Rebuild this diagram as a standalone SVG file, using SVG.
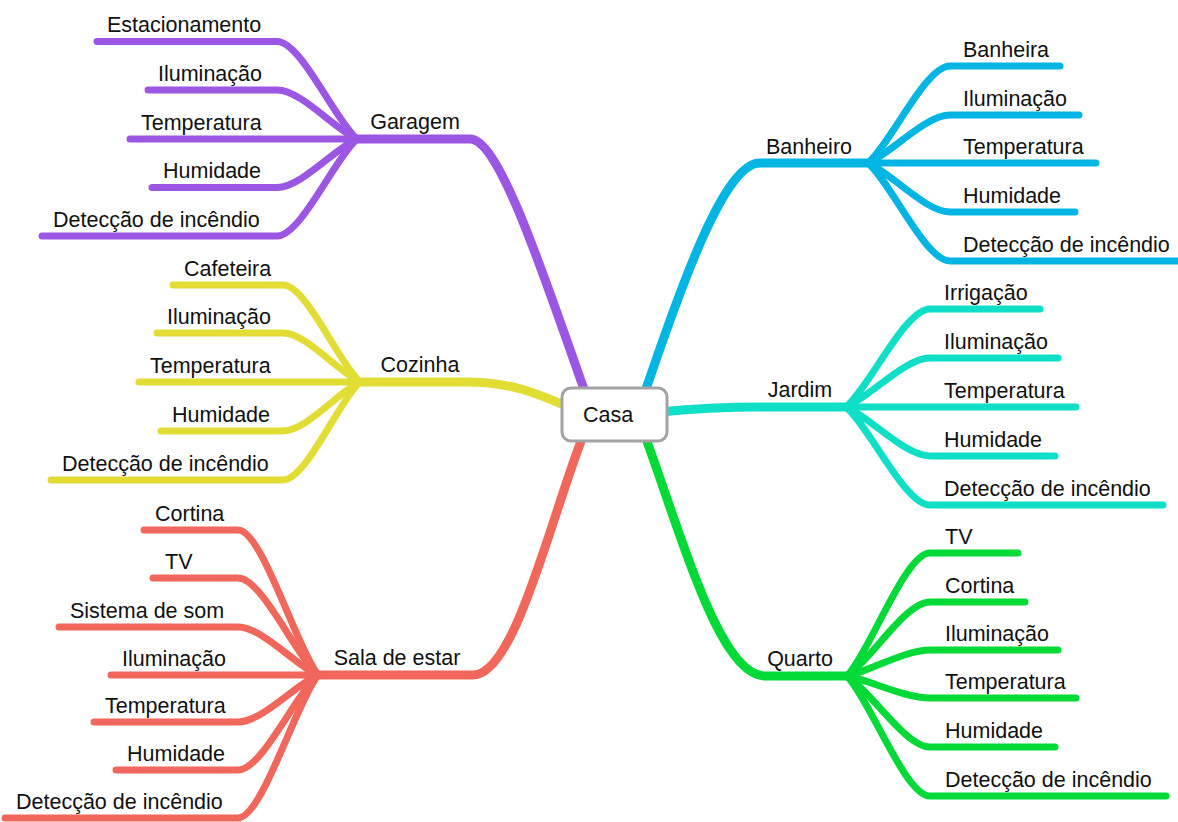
<svg xmlns="http://www.w3.org/2000/svg" width="1178" height="822" viewBox="0 0 1178 822">
  <style>
    .t { font-family: "Liberation Sans", Arial, Helvetica, sans-serif; font-size: 21.5px; fill: #111; }
    .c { text-anchor: middle; }
    path { fill: none; stroke-linecap: round; stroke-linejoin: round; }
    .main { stroke-width: 9; }
    .leaf { stroke-width: 7; }
    .purple { stroke: #9B56E3; }
    .yellow { stroke: #E1DD35; }
    .red { stroke: #F1675B; }
    .cyan { stroke: #03B5E3; }
    .teal { stroke: #0FDFC6; }
    .green { stroke: #04DA37; }
  </style>

  <rect width="1178" height="822" fill="#ffffff"/>

  <!-- connectors: branch trunks and leaf underlines -->
  <g id="connectors">
    <!-- Garagem -->
    <path class="main purple" d="M585,392 C545,280 500,139 470,139 H357"/>
    <path class="leaf purple" d="M357,139 C334.6,119.5 301,41.5 277,41.5 H97"/>
    <path class="leaf purple" d="M357,139 C334.6,129.2 301,90 277,90 H148"/>
    <path class="leaf purple" d="M357,139 H130"/>
    <path class="leaf purple" d="M357,139 C334.6,148.7 301,187.5 277,187.5 H152"/>
    <path class="leaf purple" d="M357,139 C334.6,158.4 301,236 277,236 H42"/>

    <!-- Cozinha -->
    <path class="main yellow" d="M575,410 C535,392 510,382 465,382 H360"/>
    <path class="leaf yellow" d="M360,382 C338.4,362.6 306.1,285 283,285 H173"/>
    <path class="leaf yellow" d="M360,382 C338.4,372.2 306.1,333 283,333 H157"/>
    <path class="leaf yellow" d="M360,382 H139"/>
    <path class="leaf yellow" d="M360,382 C338.4,391.8 306.1,431 283,431 H161"/>
    <path class="leaf yellow" d="M360,382 C338.4,401.6 306.1,480 283,480 H51"/>

    <!-- Sala de estar -->
    <path class="main red" d="M583,436 C550,520 515,675 473,675 H318"/>
    <path class="leaf red" d="M318,675 C295.6,646 262,530 238,530 H144"/>
    <path class="leaf red" d="M318,675 C295.6,655.6 262,578 238,578 H153"/>
    <path class="leaf red" d="M318,675 C295.6,665.4 262,627 238,627 H59"/>
    <path class="leaf red" d="M318,675 H111"/>
    <path class="leaf red" d="M318,675 C295.6,684.4 262,722 238,722 H94"/>
    <path class="leaf red" d="M318,675 C295.6,694 262,770 238,770 H116"/>
    <path class="leaf red" d="M318,675 C295.6,703.6 262,818 238,818 H5"/>

    <!-- Banheiro -->
    <path class="main cyan" d="M645,392 C683,280 725,163 760,163 H868"/>
    <path class="leaf cyan" d="M868,163 C891,143.6 925.4,66 950,66 H1060"/>
    <path class="leaf cyan" d="M868,163 C891,153.4 925.4,115 950,115 H1079"/>
    <path class="leaf cyan" d="M868,163 H1096"/>
    <path class="leaf cyan" d="M868,163 C891,172.8 925.4,212 950,212 H1075"/>
    <path class="leaf cyan" d="M868,163 C891,182.6 925.4,261 950,261 H1184"/>

    <!-- Jardim -->
    <path class="main teal" d="M660,412 C700,408 720,407 760,407 H846"/>
    <path class="leaf teal" d="M846,407 C869.5,387.4 904.8,309 930,309 H1040"/>
    <path class="leaf teal" d="M846,407 C869.5,397.2 904.8,358 930,358 H1058"/>
    <path class="leaf teal" d="M846,407 H1076"/>
    <path class="leaf teal" d="M846,407 C869.5,416.8 904.8,456 930,456 H1055"/>
    <path class="leaf teal" d="M846,407 C869.5,426.6 904.8,505 930,505 H1163"/>

    <!-- Quarto -->
    <path class="main green" d="M645,436 C683,540 720,676 765,676 H847"/>
    <path class="leaf green" d="M847,676 C870.2,651.4 905.1,553 930,553 H1018"/>
    <path class="leaf green" d="M847,676 C870.2,661.2 905.1,602 930,602 H1025"/>
    <path class="leaf green" d="M847,676 C870.2,670.8 905.1,650 930,650 H1058"/>
    <path class="leaf green" d="M847,676 C870.2,680.4 905.1,698 930,698 H1076"/>
    <path class="leaf green" d="M847,676 C870.2,690.2 905.1,747 930,747 H1055"/>
    <path class="leaf green" d="M847,676 C870.2,700 905.1,796 930,796 H1166"/>
  </g>

  <!-- root -->
  <g id="casa">
    <rect x="562" y="388" width="105" height="53" rx="9" ry="9" fill="#ffffff" stroke="#a3a3a3" stroke-width="3"/>
    <text class="t" x="583" y="422">Casa</text>
  </g>

  <!-- branches -->
  <g id="garagem"><text class="t c" x="415" y="129">Garagem</text></g>
  <g id="cozinha"><text class="t c" x="420" y="372">Cozinha</text></g>
  <g id="sala-de-estar"><text class="t c" x="397" y="665">Sala de estar</text></g>
  <g id="banheiro"><text class="t c" x="809" y="154">Banheiro</text></g>
  <g id="jardim"><text class="t c" x="800" y="397">Jardim</text></g>
  <g id="quarto"><text class="t c" x="800" y="666">Quarto</text></g>

  <!-- Garagem leaves -->
  <g id="garagem-estacionamento"><text class="t" x="107" y="32">Estacionamento</text></g>
  <g id="garagem-iluminacao"><text class="t" x="158" y="80.5">Iluminação</text></g>
  <g id="garagem-temperatura"><text class="t" x="141" y="129.5">Temperatura</text></g>
  <g id="garagem-humidade"><text class="t" x="163" y="178">Humidade</text></g>
  <g id="garagem-incendio"><text class="t" x="53" y="226.5">Detecção de incêndio</text></g>

  <!-- Cozinha leaves -->
  <g id="cozinha-cafeteira"><text class="t" x="184" y="275.5">Cafeteira</text></g>
  <g id="cozinha-iluminacao"><text class="t" x="167" y="323.5">Iluminação</text></g>
  <g id="cozinha-temperatura"><text class="t" x="150" y="372.5">Temperatura</text></g>
  <g id="cozinha-humidade"><text class="t" x="172" y="421.5">Humidade</text></g>
  <g id="cozinha-incendio"><text class="t" x="62" y="470.5">Detecção de incêndio</text></g>

  <!-- Sala de estar leaves -->
  <g id="sala-cortina"><text class="t" x="155" y="520.5">Cortina</text></g>
  <g id="sala-tv"><text class="t" x="165" y="568.5">TV</text></g>
  <g id="sala-som"><text class="t" x="70" y="617.5">Sistema de som</text></g>
  <g id="sala-iluminacao"><text class="t" x="122" y="665.5">Iluminação</text></g>
  <g id="sala-temperatura"><text class="t" x="105" y="712.5">Temperatura</text></g>
  <g id="sala-humidade"><text class="t" x="127" y="760.5">Humidade</text></g>
  <g id="sala-incendio"><text class="t" x="16" y="808.5">Detecção de incêndio</text></g>

  <!-- Banheiro leaves -->
  <g id="banheiro-banheira"><text class="t" x="963" y="56.5">Banheira</text></g>
  <g id="banheiro-iluminacao"><text class="t" x="963" y="105.5">Iluminação</text></g>
  <g id="banheiro-temperatura"><text class="t" x="963" y="153.5">Temperatura</text></g>
  <g id="banheiro-humidade"><text class="t" x="963" y="202.5">Humidade</text></g>
  <g id="banheiro-incendio"><text class="t" x="963" y="251.5">Detecção de incêndio</text></g>

  <!-- Jardim leaves -->
  <g id="jardim-irrigacao"><text class="t" x="944" y="299.5">Irrigação</text></g>
  <g id="jardim-iluminacao"><text class="t" x="944" y="348.5">Iluminação</text></g>
  <g id="jardim-temperatura"><text class="t" x="944" y="397.5">Temperatura</text></g>
  <g id="jardim-humidade"><text class="t" x="944" y="446.5">Humidade</text></g>
  <g id="jardim-incendio"><text class="t" x="944" y="495.5">Detecção de incêndio</text></g>

  <!-- Quarto leaves -->
  <g id="quarto-tv"><text class="t" x="945" y="543.5">TV</text></g>
  <g id="quarto-cortina"><text class="t" x="945" y="592.5">Cortina</text></g>
  <g id="quarto-iluminacao"><text class="t" x="945" y="640.5">Iluminação</text></g>
  <g id="quarto-temperatura"><text class="t" x="945" y="688.5">Temperatura</text></g>
  <g id="quarto-humidade"><text class="t" x="945" y="737.5">Humidade</text></g>
  <g id="quarto-incendio"><text class="t" x="945" y="786.5">Detecção de incêndio</text></g>
</svg>
